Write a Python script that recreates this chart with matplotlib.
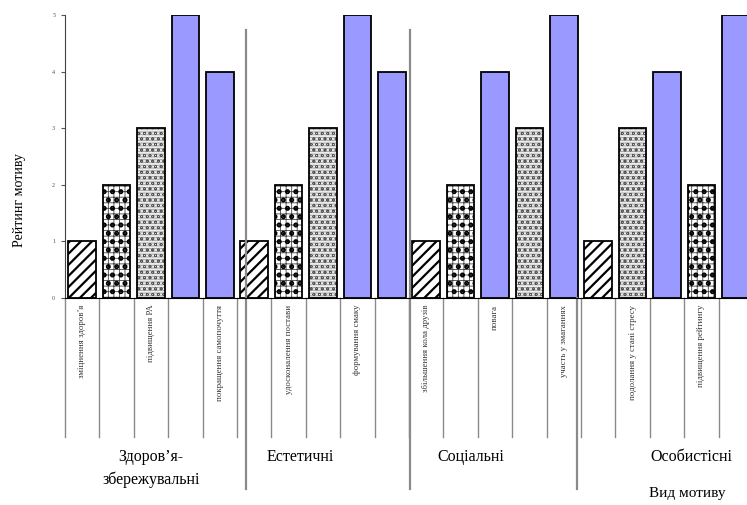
import matplotlib.pyplot as plt
import numpy as np

plt.rcParams['font.family'] = ['Liberation Serif', 'DejaVu Serif']

# motive groups and their ratings (5 motives each)
groups = ['Здоров\u2019я-\nзбережувальні', 'Естетичні', 'Соціальні', 'Особистісні']
motive_labels = ['зміцнення здоров\u2019я', '', 'підвищення РА', '', 'покращення самопочуття',
                 '', 'удосконалення постави', '', 'формування смаку', '',
                 'збільшення кола друзів', '', 'повага', '', 'участь у змаганнях',
                 '', 'подолання у стані стресу', '', 'підвищення рейтингу', '']
ratings = [1, 2, 3, 5, 4,
           1, 2, 3, 5, 4,
           1, 2, 4, 3, 5,
           1, 3, 4, 2, 5]
fill_kind = ['diag', 'dots', 'fine', 'solid', 'solid',
             'diag', 'dots', 'fine', 'solid', 'solid',
             'diag', 'dots', 'solid', 'fine', 'solid',
             'diag', 'fine', 'solid', 'dots', 'solid']

# facecolor, list of (hatch, hatch colour, hatch linewidth)
styles = {
    'diag': ('white', [('///', 'black', 1.6)]),
    'dots': ('white', [('+++', '#444444', 0.6), ('..', 'black', 2.4)]),
    'fine': ('#ececec', [('------', '#9a9a9a', 0.6), ('ooo', '#555555', 0.5)]),
    'solid': ('#9999ff', []),
}

fig = plt.figure(figsize=(7.47, 5.05), dpi=100)
ax = fig.add_axes([65 / 747, 207 / 505, 688 / 747, 283 / 505])

x = np.arange(len(ratings))
for xi, val, kind in zip(x, ratings, fill_kind):
    fc, layers = styles[kind]
    ax.bar(xi, val, width=0.8, color=fc, linewidth=0)
    for hatch, hc, hlw in layers:
        with plt.rc_context({'hatch.linewidth': hlw}):
            ax.bar(xi, val, width=0.8, fill=False, edgecolor=hc, hatch=hatch,
                   linewidth=0)
ax.bar(x, ratings, width=0.8, fill=False, edgecolor='black', linewidth=1.3)

ax.set_xlim(-0.5, len(ratings) - 0.5)
ax.set_ylim(0, 5)
ax.set_xticks([])
ax.set_yticks(range(6))
ax.tick_params(axis='y', labelsize=4.5, labelcolor='#555555', length=3,
               color='#555555', pad=4)
for side in ['top', 'right']:
    ax.spines[side].set_visible(False)
ax.spines['left'].set_color('#444444')
ax.spines['bottom'].set_color('black')

# thin dividers between motives under the axis
for k in range(len(ratings) + 1):
    ax.plot([k - 0.5, k - 0.5], [0, -2.46], color='#8a8a8a', lw=1, clip_on=False)

# motive names, rotated
for xi, name in zip(x, motive_labels):
    if name:
        ax.text(xi, -0.12, name, rotation=90, ha='center', va='top',
                fontsize=6.3, color='#333333', clip_on=False)

# group separators
sep_pos = [4.5 + 0.26, 9.5 + 0.03, 14.5 - 0.12]
sep_top = [4.73, 4.73, 0]
for xs, top in zip(sep_pos, sep_top):
    ax.plot([xs, xs], [top, -3.37], color='#8a8a8a', lw=1.6, clip_on=False)

# group captions
group_x = [2.0, 6.35, 11.3, 17.7]
for gx, g in zip(group_x, groups):
    ax.text(gx, -2.66, g, ha='center', va='top', fontsize=11.5,
            linespacing=1.55, clip_on=False)

ax.text(17.6, -3.46, 'Вид мотиву', ha='center', va='center', fontsize=11,
        clip_on=False)
fig.text(20 / 747, 1 - 200 / 505, 'Рейтинг мотиву', rotation=90,
         ha='center', va='center', fontsize=10)

fig.savefig('out.png', dpi=100)
